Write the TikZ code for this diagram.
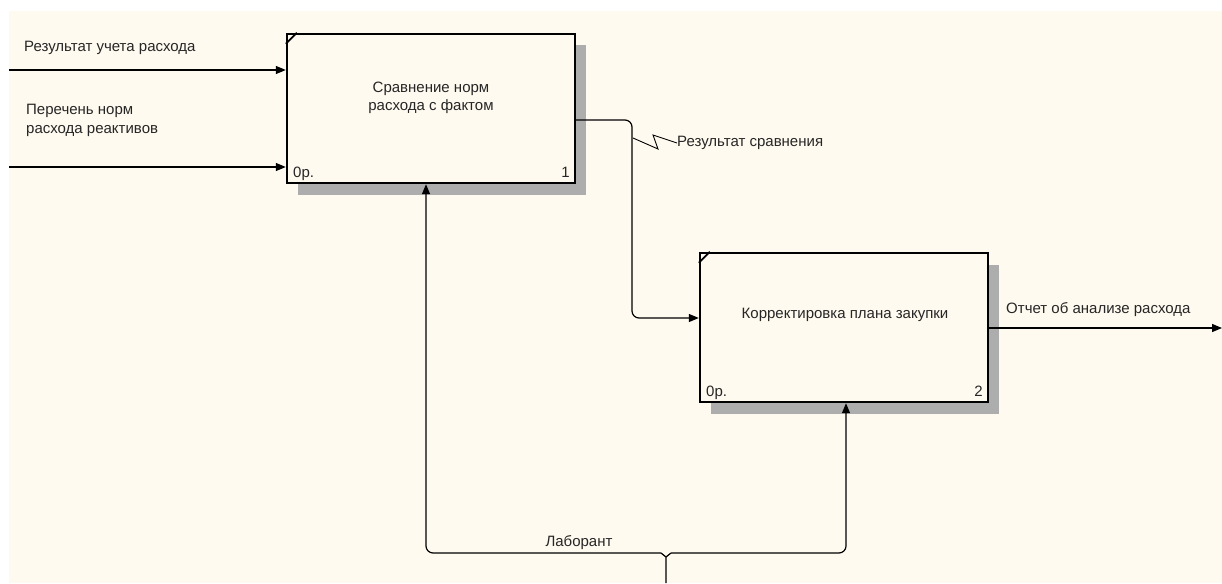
\documentclass[tikz,border=0pt]{standalone}
\usepackage{fontspec}
\setmainfont{Liberation Sans}
\usetikzlibrary{arrows.meta}
\definecolor{paper}{HTML}{FFFAEF}
\definecolor{shade}{HTML}{ADADAD}
\tikzset{
  actbox/.style={draw=black, line width=2.4pt, fill=paper, minimum width=288pt, minimum height=149pt, inner sep=0pt},
  boxshadow/.style={fill=shade},
  flow/.style={draw=black, line width=1.2pt},
  arr/.style={flow, -{Triangle[length=10pt,width=8pt]}},
  lbl/.style={font=\fontsize{15}{18.5}\selectfont, text=black!85, inner sep=0pt},
}
\begin{document}
\begin{tikzpicture}[x=1pt,y=-1pt]
\useasboundingbox (0,0) rectangle (1222,583);
\fill[paper] (9,11) rectangle (1222,583);

% activity boxes with their drop shadows
\fill[boxshadow] (298,45) rectangle (586,195);
\node[actbox] (b1) at (431,108.5) {};
\fill[boxshadow] (711,265) rectangle (999,414);
\node[actbox] (b2) at (844,327.5) {};

% corner ticks
\draw[line width=1.7pt] ([yshift=-11pt]b1.north west) -- ([xshift=11pt]b1.north west);
\draw[line width=1.7pt] ([yshift=-11pt]b2.north west) -- ([xshift=11pt]b2.north west);

% box titles and numbers
\node[lbl, align=center] (t1) at (431,98) {Сравнение норм\\расхода с фактом};
\node[lbl] (t2) at (845,315) {Корректировка плана закупки};
\node[lbl, anchor=base west] (c1) at (293,177) {0р.};
\node[lbl, anchor=base east] (n1) at (570,177) {1};
\node[lbl, anchor=base west] (c2) at (706,396) {0р.};
\node[lbl, anchor=base east] (n2) at (983,396) {2};

% inputs
\coordinate (s1) at (9,70);
\coordinate (s2) at (9,167);
\draw[arr] (s1) -- (s1 -| b1.west);
\draw[arr] (s2) -- (s2 -| b1.west);
\node[lbl, anchor=base west] (l1) at (24,52) {Результат учета расхода};
\node[lbl, anchor=west, align=left] (l2) at (26,120.5) {Перечень норм\\расхода реактивов};

% output of box 1 into box 2
\coordinate (o1) at (575,120);
\coordinate (k1) at (632,120);
\coordinate (k2) at (632,318);
\draw[arr, rounded corners=7pt] (o1 -| b1.east) -- (k1) -- (k2) -- (k2 -| b2.west);
\draw[line width=0.9pt] (633,138) -- (658,149) -- (653,135) -- (677,143);
\node[lbl, anchor=west] (l3) at (677,143) {Результат сравнения};

% final output
\coordinate (e2) at (1222,328);
\draw[arr] (e2 -| b2.east) -- (e2);
\node[lbl, anchor=base west] (l4) at (1006,313) {Отчет об анализе расхода};

% mechanism
\coordinate (m0) at (666,583);
\coordinate (mj) at (666,557);
\coordinate (ma) at (426,553);
\coordinate (mb) at (846,553);
\draw[arr, rounded corners=7pt] (661,553) -- (ma) -- (ma |- b1.south);
\draw[arr, rounded corners=7pt] (671,553) -- (mb) -- (mb |- b2.south);
\draw[flow] (m0) -- (mj) -- (661,553);
\draw[flow] (mj) -- (671,553);
\node[lbl, anchor=base] (l5) at (579,546) {Лаборант};
\end{tikzpicture}
\end{document}
